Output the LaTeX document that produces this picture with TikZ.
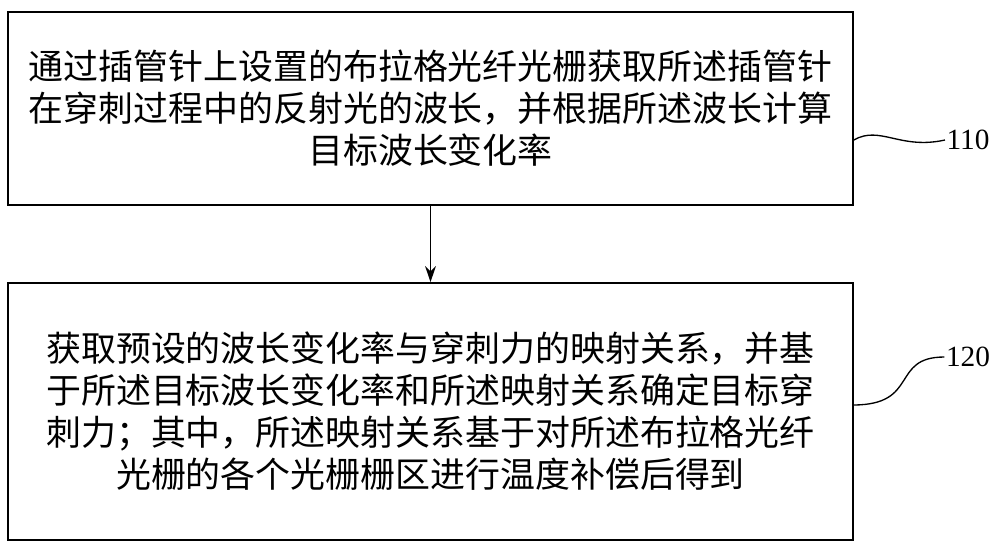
\documentclass[tikz,border=0pt]{standalone}
\usepackage{fontspec}
\setmainfont{Liberation Serif}
\newfontfamily\cjk{Noto Sans CJK SC}
\usetikzlibrary{positioning,arrows.meta}
\tikzset{
	stepbox/.style={draw, line width=1.2pt, minimum width=845*0.75pt, align=center, font=\cjk\fontsize{26.2}{31.5}\selectfont},
	tag/.style={font=\fontsize{22}{24}\selectfont, inner sep=1pt}
}
\begin{document}
\begin{tikzpicture}[x=0.75pt, y=-0.75pt]
	\useasboundingbox (0,0) rectangle (1000,551);
	
	\node [stepbox, minimum height=193*0.75pt] (s110) at (430.5,108.5) {通过插管针上设置的布拉格光纤光栅获取所述插管针\\在穿刺过程中的反射光的波长，并根据所述波长计算\\目标波长变化率};
	\node [stepbox, minimum height=257*0.75pt] (s120) at (430.5,411.5) {获取预设的波长变化率与穿刺力的映射关系，并基\\于所述目标波长变化率和所述映射关系确定目标穿\\刺力；其中，所述映射关系基于对所述布拉格光纤\\光栅的各个光栅栅区进行温度补偿后得到};
	
	\draw [-{Stealth[length=12pt, width=8pt]}, line width=1.2pt] (s110) -- (s120);
	
	\node [tag] (l110) at (968,140) {110};
	\node [tag] (l120) at (968,357) {120};
	
	\draw [line width=1pt] (s110.east |- l110) .. controls (880,125) and (900,150) .. (l110.west);
	\draw [line width=1pt] (853,405) .. controls (920,405) and (890,357) .. (l120.west);
	
\end{tikzpicture}
\end{document}
